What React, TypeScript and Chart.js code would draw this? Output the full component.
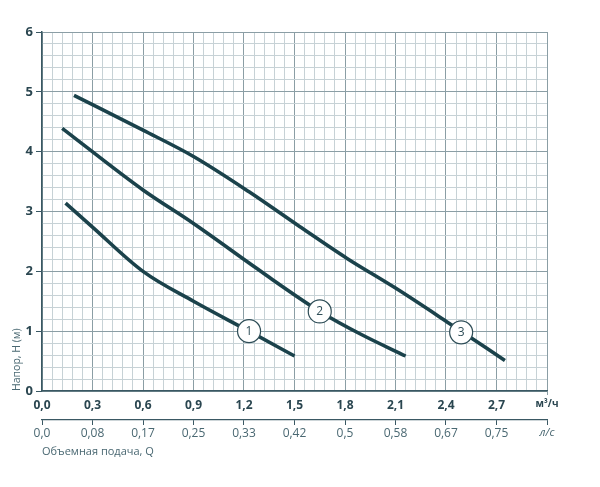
import React, { useEffect, useRef } from "react";
import { Chart, registerables } from "chart.js";

Chart.register(...registerables);

// ---- data ----
const curve1Q = [0.14, 0.3, 0.6, 0.9, 1.23, 1.5];
const curve1H = [3.14, 2.74, 2.0, 1.5, 1.0, 0.585];
const curve2Q = [0.12, 0.6, 0.9, 1.23, 1.37, 1.65, 1.9, 2.16];
const curve2H = [4.39, 3.36, 2.8, 2.14, 1.86, 1.33, 0.94, 0.585];
const curve3Q = [0.19, 0.6, 0.9, 1.23, 1.53, 1.81, 2.1, 2.42, 2.75];
const curve3H = [4.94, 4.36, 3.92, 3.33, 2.75, 2.22, 1.72, 1.13, 0.51];
const markerNames = ["1", "2", "3"];
const markerQ = [1.23, 1.65, 2.49];
const markerH = [1.0, 1.33, 0.98];
const xTickLabels = ["0,0", "0,3", "0,6", "0,9", "1,2", "1,5", "1,8", "2,1", "2,4", "2,7", "м³/ч"];
const x2TickLabels = ["0,0", "0,08", "0,17", "0,25", "0,33", "0,42", "0,5", "0,58", "0,67", "0,75", "л/с"];
const yTickLabels = ["0", "1", "2", "3", "4", "5", "6"];
const yTitle = "Напор, H (м)";
const x2Title = "Объемная подача, Q";

const LINE = "#1b424b";
const AXIS = "#3a5863";
const MINOR = "#c7d2d6";
const MAJOR = "#8b9ea5";
const TXT = "#2a4650";
const TXT2 = "#4a6872";
const FONT = "'Open Sans', 'Noto Sans', sans-serif";

const isMult = (v: number, step: number) => Math.abs(v / step - Math.round(v / step)) < 1e-6;

const pts = (xs: number[], ys: number[]) => xs.map((x, i) => ({ x, y: ys[i] }));

const markerTextPlugin = {
  id: "markerText",
  afterDatasetsDraw(chart: any) {
    const meta = chart.getDatasetMeta(0);
    const ctx = chart.ctx;
    ctx.save();
    ctx.fillStyle = "#2e4d57";
    ctx.font = `12px ${FONT}`;
    ctx.textAlign = "center";
    ctx.textBaseline = "middle";
    meta.data.forEach((el: any, i: number) => {
      ctx.fillText(markerNames[i], el.x, el.y + 0.5);
    });
    ctx.restore();
  },
};

export default function App() {
  const ref = useRef<HTMLCanvasElement | null>(null);
  useEffect(() => {
    if (!ref.current) return;
    const curveDs = (xs: number[], ys: number[]) => ({
      data: pts(xs, ys),
      borderColor: LINE,
      borderWidth: 3.6,
      pointRadius: 0,
      tension: 0.3,
      cubicInterpolationMode: "monotone" as const,
      borderCapStyle: "butt" as const,
      fill: false,
      order: 1,
    });
    const chart = new Chart(ref.current, {
      type: "line",
      data: {
        datasets: [
          {
            data: pts(markerQ, markerH),
            showLine: false,
            pointRadius: 11.5,
            pointBackgroundColor: "#ffffff",
            pointBorderColor: "#2e4d57",
            pointBorderWidth: 1.2,
            order: 0,
          } as any,
          curveDs(curve1Q, curve1H),
          curveDs(curve2Q, curve2H),
          curveDs(curve3Q, curve3H),
        ],
      },
      options: {
        animation: false,
        responsive: true,
        maintainAspectRatio: false,
        layout: { padding: { left: 0, right: 53, top: 32, bottom: 17 } },
        plugins: { legend: { display: false }, tooltip: { enabled: false } },
        scales: {
          x: {
            type: "linear",
            position: "bottom",
            min: 0,
            max: 3,
            afterFit: (s: any) => {
              s.height = 29;
            },
            ticks: {
              stepSize: 0.06,
              autoSkip: false,
              maxRotation: 0,
              minRotation: 0,
              padding: 3,
              color: TXT,
              font: (ctx: any) => {
                const v = ctx.tick ? ctx.tick.value : 0;
                return Math.abs(v - 3) < 1e-6
                  ? { family: FONT, size: 10, weight: "bold" }
                  : { family: FONT, size: 12, weight: "bold" };
              },
              callback: (v: any) => {
                const n = Number(v);
                return isMult(n, 0.3) ? xTickLabels[Math.round(n / 0.3)] ?? "" : "";
              },
            },
            grid: {
              color: (ctx: any) => (ctx.tick && isMult(ctx.tick.value, 0.3) ? MAJOR : MINOR),
              lineWidth: 1,
              tickLength: 4,
              tickColor: (ctx: any) => (ctx.tick && Math.abs(ctx.tick.value - 3) < 1e-6 ? MAJOR : "rgba(0,0,0,0)"),
            },
            border: { display: true, color: AXIS, width: 1.5 },
          },
          x2: {
            type: "linear",
            position: "bottom",
            min: 0,
            max: 3,
            afterFit: (s: any) => {
              s.height = 50;
            },
            ticks: {
              stepSize: 0.3,
              autoSkip: false,
              maxRotation: 0,
              minRotation: 0,
              padding: 1,
              color: TXT2,
              font: (ctx: any) => {
                const v = ctx.tick ? ctx.tick.value : 0;
                return Math.abs(v - 3) < 1e-6
                  ? { family: FONT, size: 11, style: "italic" }
                  : { family: FONT, size: 12 };
              },
              callback: (v: any) => {
                const n = Number(v);
                return isMult(n, 0.3) ? x2TickLabels[Math.round(n / 0.3)] ?? "" : "";
              },
            },
            grid: {
              drawOnChartArea: false,
              drawTicks: true,
              tickLength: 5,
              tickColor: AXIS,
              lineWidth: 1,
            },
            border: { display: true, color: AXIS, width: 1.2 },
            title: {
              display: true,
              text: x2Title,
              align: "start",
              color: TXT2,
              font: { family: FONT, size: 11 },
              padding: { top: 0, bottom: 12 },
            },
          },
          y: {
            type: "linear",
            min: 0,
            max: 6,
            afterFit: (s: any) => {
              s.width = 42;
            },
            ticks: {
              stepSize: 0.2,
              autoSkip: false,
              padding: 3,
              color: TXT,
              font: { family: FONT, size: 13, weight: "bold" },
              callback: (v: any) => {
                const n = Number(v);
                return isMult(n, 1) ? yTickLabels[Math.round(n)] ?? "" : "";
              },
            },
            grid: {
              color: (ctx: any) => (ctx.tick && isMult(ctx.tick.value, 1) ? MAJOR : MINOR),
              lineWidth: 1,
              tickLength: 6,
              tickColor: (ctx: any) => (ctx.tick && isMult(ctx.tick.value, 1) ? AXIS : "rgba(0,0,0,0)"),
            },
            border: { display: true, color: AXIS, width: 1.5 },
            title: {
              display: true,
              text: yTitle,
              align: "start",
              color: TXT2,
              font: { family: FONT, size: 10.5 },
              padding: { top: 11, bottom: 0 },
            },
          },
        },
      } as any,
      plugins: [markerTextPlugin],
    });
    return () => chart.destroy();
  }, []);

  return (
    <div style={{ position: "absolute", left: 0, top: 0, width: 600, height: 487, background: "#ffffff" }}>
      <canvas ref={ref} />
    </div>
  );
}
